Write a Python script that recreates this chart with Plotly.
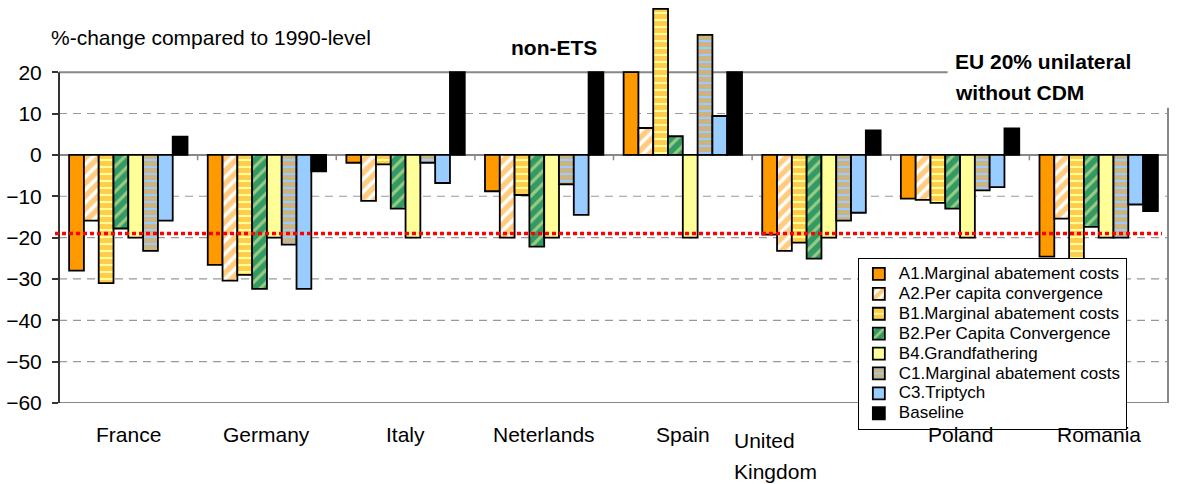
import plotly.graph_objects as go

# Categories and series (% change compared to 1990 level, non-ETS sectors)
countries = ["France", "Germany", "Italy", "Neterlands", "Spain",
             "United Kingdom", "Poland", "Romania"]

a1_marginal = [-28.0, -26.6, -1.9, -8.8, 20.0, -19.3, -10.6, -24.6]
a2_per_capita = [-15.9, -30.4, -11.1, -20.0, 6.5, -23.2, -10.9, -15.4]
b1_marginal = [-31.0, -29.0, -2.3, -9.7, 35.3, -21.2, -11.6, -29.0]
b2_per_capita = [-17.8, -32.4, -13.0, -22.2, 4.5, -25.1, -13.0, -17.4]
b4_grandfathering = [-20.0, -20.0, -20.0, -20.0, -20.0, -20.0, -20.0, -20.0]
c1_marginal = [-23.2, -21.7, -1.9, -7.1, 29.0, -15.9, -8.6, -20.0]
c3_triptych = [-15.9, -32.4, -6.8, -14.5, 9.4, -14.0, -7.8, -12.0]
baseline = [4.4, -4.0, 20.0, 20.0, 20.0, 5.9, 6.4, -13.6]

series_names = [
    "A1.Marginal abatement costs",
    "A2.Per capita convergence",
    "B1.Marginal abatement costs",
    "B2.Per Capita Convergence",
    "B4.Grandfathering",
    "C1.Marginal abatement costs",
    "C3.Triptych",
    "Baseline",
]

eu_target = -19.0
tick_values = [-60, -50, -40, -30, -20, -10, 0, 10, 20]
grid_values = [-50, -40, -30, -20, -10, 10]

ORANGE = "#FF9900"
YELLOW = "#FFFF99"
GREEN = "#339966"
BLUE = "#99CCFF"
FONT = "Liberation Sans, Arial, sans-serif"

styles = [
    dict(color=ORANGE),
    dict(color="white", pattern=dict(shape="/", fgcolor=ORANGE, bgcolor="white",
                                     size=9, solidity=0.6)),
    dict(color=YELLOW, pattern=dict(shape="-", fgcolor=ORANGE, bgcolor=YELLOW,
                                    size=7, solidity=0.7)),
    dict(color=GREEN, pattern=dict(shape="/", fgcolor=YELLOW, bgcolor=GREEN,
                                   size=9, solidity=0.35)),
    dict(color=YELLOW),
    dict(color=BLUE, pattern=dict(shape="-", fgcolor=ORANGE, bgcolor=BLUE,
                                  size=7, solidity=0.7)),
    dict(color=BLUE),
    dict(color="black"),
]

all_values = [a1_marginal, a2_per_capita, b1_marginal, b2_per_capita,
              b4_grandfathering, c1_marginal, c3_triptych, baseline]

fig = go.Figure()
for name, vals, st in zip(series_names, all_values, styles):
    marker = dict(st)
    marker["line"] = dict(color="black", width=1.8)
    fig.add_trace(go.Bar(
        x=countries, y=vals,
        name='<span style="font-size:17px">' + name + "</span>",
        marker=marker,
    ))

shapes = []
# dashed horizontal gridlines
for g in grid_values:
    shapes.append(dict(type="line", xref="paper", yref="y", x0=0, x1=1, y0=g, y1=g,
                       line=dict(color="#999999", width=1.2, dash="8px,6px"),
                       layer="below"))
# plot frame: top line, right border, bottom line, left axis
shapes.append(dict(type="line", xref="paper", yref="y", x0=0, x1=0.8013, y0=20, y1=20,
                   line=dict(color="#888888", width=2), layer="below"))
shapes.append(dict(type="line", xref="paper", yref="y", x0=1, x1=1, y0=-60, y1=11.4,
                   line=dict(color="#888888", width=2), layer="below"))
shapes.append(dict(type="line", xref="paper", yref="y", x0=0, x1=1, y0=-60, y1=-60,
                   line=dict(color="#888888", width=2), layer="below"))
shapes.append(dict(type="line", xref="paper", yref="y", x0=0, x1=0, y0=-60, y1=20,
                   line=dict(color="#333333", width=2)))
# category separators on the zero line
for i in range(len(countries) - 1):
    shapes.append(dict(type="line", xref="x", yref="y", x0=i + 0.5, x1=i + 0.5,
                       y0=0, y1=-1.3, line=dict(color="#888888", width=1.5),
                       layer="below"))
# EU-wide reduction target
shapes.append(dict(type="line", xref="paper", yref="y", x0=-0.0036, x1=0.9946,
                   y0=eu_target, y1=eu_target,
                   line=dict(color="#FF0000", width=3.5, dash="4px,3px")))

annotations = []
for c in countries:
    if c == "United Kingdom":
        first, second = c.split(" ")
        annotations.append(dict(x=c, xref="x", y=0, yref="paper", text=first,
                                xanchor="left", xshift=-89, yanchor="middle", yshift=-37,
                                showarrow=False, font=dict(size=21)))
        annotations.append(dict(x=c, xref="x", y=0, yref="paper", text=second,
                                xanchor="left", xshift=-89, yanchor="middle", yshift=-68,
                                showarrow=False, font=dict(size=21)))
    else:
        annotations.append(dict(x=c, xref="x", y=0, yref="paper", text=c,
                                xanchor="center", yanchor="middle", yshift=-31,
                                showarrow=False, font=dict(size=21)))


def px_x(p):
    return (p - 56) / 1112.0


def px_y(p):
    return (403 - p) / 397.0


annotations.append(dict(x=px_x(46), y=px_y(38), xref="paper", yref="paper",
                        text="%-change compared to 1990-level", xanchor="left",
                        yanchor="middle", showarrow=False, font=dict(size=21)))
annotations.append(dict(x=px_x(552), y=px_y(47), xref="paper", yref="paper",
                        text="<b>non-ETS</b>", xanchor="center", yanchor="middle",
                        showarrow=False, font=dict(size=21)))
annotations.append(dict(x=px_x(952), y=px_y(62), xref="paper", yref="paper",
                        text="<b>EU 20% unilateral</b>", xanchor="left", yanchor="middle",
                        showarrow=False, font=dict(size=21)))
annotations.append(dict(x=px_x(952), y=px_y(92), xref="paper", yref="paper",
                        text="<b>without CDM</b>", xanchor="left", yanchor="middle",
                        showarrow=False, font=dict(size=21)))

fig.update_layout(
    width=1177, height=484,
    margin=dict(l=56, r=9, t=6, b=81),
    paper_bgcolor="white", plot_bgcolor="white",
    font=dict(family=FONT, color="black"),
    barmode="group", bargap=0.146, bargroupgap=0,
    showlegend=True,
    legend=dict(x=px_x(857), y=px_y(258), xanchor="left", yanchor="top",
                bgcolor="white", bordercolor="black", borderwidth=1,
                font=dict(size=13, color="black"), itemwidth=30,
                tracegroupgap=0),
    xaxis=dict(type="category", showline=False, ticks="", showticklabels=False,
               showgrid=False, zeroline=False),
    yaxis=dict(range=[-60, 36], tickvals=tick_values,
               ticks="outside", ticklen=6, tickcolor="#333333", tickwidth=1.5,
               tickfont=dict(size=21), ticklabelstandoff=6,
               showgrid=False, zeroline=True, zerolinecolor="#888888",
               zerolinewidth=2, showline=False),
    shapes=shapes,
    annotations=annotations,
)

fig.write_html("out.html")
